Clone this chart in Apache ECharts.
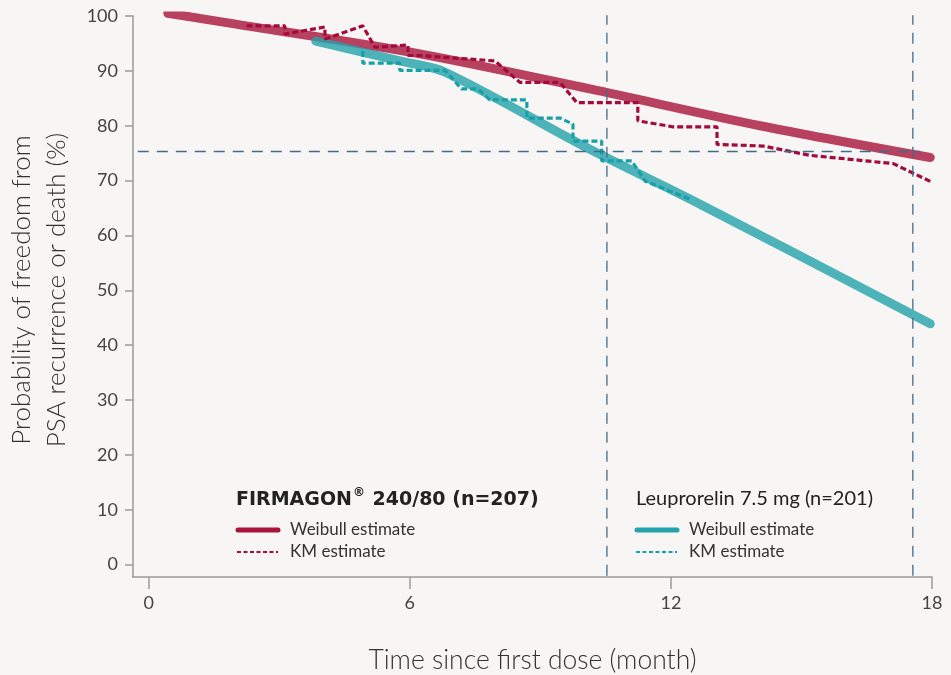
<!DOCTYPE html>
<html>
<head>
<meta charset="utf-8">
<script src="https://cdn.jsdelivr.net/npm/echarts@6/dist/echarts.min.js"></script>
<style>
html,body{margin:0;padding:0;background:#f7f6f4;}
#c{width:951px;height:675px;}
</style>
</head>
<body>
<div id="c"></div>
<script>
// ---- data (month, %) ----
const xTicks = [0, 6, 12, 18];
const yTicks = [0, 10, 20, 30, 40, 50, 60, 70, 80, 90, 100];

const firmagonWeibull = [[0.44,100.5],[1.86,98.7],[6.23,93.1],[10.14,86.7],[14.05,80.0],[17.96,74.2]];
const leuproWeibull = [[3.84,95.4],[5.77,91.8],[6.8,89.8],[10.14,75.7],[12.67,65.7],[17.96,43.9]];

const firmagonKM = [[2.25,98.2],[3.13,98.2],[3.13,96.7],[4.05,98.0],[4.05,95.8],[4.92,98.2],[5.20,94.3],
  [5.96,94.7],[5.96,92.8],[6.23,92.8],[7.96,91.8],[8.53,87.9],[9.45,87.9],[9.84,84.2],[11.24,84.2],
  [11.24,80.9],[12.05,79.8],[13.06,79.8],[13.06,76.6],[14.12,76.3],[15.20,74.6],[17.11,73.1],[18.0,69.7]];
const leuproKM = [[4.92,93.6],[4.92,91.4],[5.77,91.4],[5.77,90.1],[6.81,90.1],[7.19,86.7],[7.57,86.7],
  [7.84,84.7],[8.69,84.7],[8.69,81.4],[9.45,81.4],[9.75,80.3],[9.75,77.2],[10.41,77.2],[10.41,73.6],
  [11.10,73.6],[11.41,69.9],[12.44,66.6]];

const refY = 75.3;
const refYRange = [-0.25, 17.73];
const refX = [10.53, 17.56];
const refXTop = 100.4;

const legendTitles = ['FIRMAGON', '\u00AE', ' 240/80 (n=207)', 'Leuprorelin 7.5 mg (n=201)'];
const legendItems = ['Weibull estimate', 'KM estimate'];

// ---- styles ----
const RED = '#a8143a', TEAL = '#23a2a9';
const RED_KM = '#a50a3c', TEAL_KM = '#17a0a8';
const REF = '#3f6b8c';
const FONT = 'Lato';

const chart = echarts.init(document.getElementById('c'), null, {renderer:'canvas'});

const xMin = -0.36, yMin = -2.25;
const refSeries = [];
refSeries.push({type:'line', data:[[refYRange[0],refY],[refYRange[1],refY]], symbol:'none', silent:true,
  lineStyle:{color:REF, width:1.3, type:[11,8]}, z:5});
refX.forEach(x => refSeries.push({type:'line', data:[[x,refXTop],[x,yMin]], symbol:'none', silent:true,
  lineStyle:{color:REF, width:1.3, type:[11,8]}, z:5}));

function legendLines(x, c1, c2) {
  return [
    {type:'line', shape:{x1:x+2,y1:530,x2:x+42,y2:530}, style:{stroke:c1, lineWidth:5, lineCap:'round'}},
    {type:'line', shape:{x1:x+1,y1:552,x2:x+42,y2:552}, style:{stroke:c2, lineWidth:2, lineDash:[4,2.5]}},
    {type:'text', left:x+54, top:521, style:{text:legendItems[0], font:'17px '+FONT, fill:'#333'}},
    {type:'text', left:x+54, top:543, style:{text:legendItems[1], font:'17px '+FONT, fill:'#333'}}
  ];
}

chart.setOption({
  backgroundColor:'#f7f6f4',
  animation:false,
  grid:{left:133, right:19, top:16, bottom:98, containLabel:false, outerBoundsMode:'none'},
  xAxis:{type:'value', min:xMin, max:18,
    axisLine:{show:true, onZero:false, lineStyle:{color:'#9a9a9a', width:1.5}},
    axisTick:{show:true, length:12, customValues:xTicks, lineStyle:{color:'#9a9a9a', width:1.5}},
    axisLabel:{customValues:xTicks, color:'#444', fontSize:18, fontFamily:FONT, margin:17},
    splitLine:{show:false},
    name:'Time since first dose (month)', nameLocation:'middle', nameGap:70,
    nameTextStyle:{fontSize:26.5, color:'#333', fontFamily:FONT, fontWeight:300}},
  yAxis:{type:'value', min:yMin, max:100,
    axisLine:{show:true, onZero:false, lineStyle:{color:'#9a9a9a', width:1.5}},
    axisTick:{show:true, length:8, customValues:yTicks, lineStyle:{color:'#9a9a9a', width:1.5}},
    axisLabel:{customValues:yTicks, color:'#444', fontSize:18, fontFamily:FONT, margin:15},
    splitLine:{show:false}},
  graphic:[
    {type:'text', x:39, y:290, rotation:Math.PI/2,
      style:{text:'Probability of freedom from\nPSA recurrence or death (%)', font:'300 26px '+FONT, fill:'#333',
        align:'center', verticalAlign:'middle', lineHeight:35}},
    {type:'text', left:236, top:487, style:{
      text:'{b|'+legendTitles[0]+'}{s|'+legendTitles[1]+'}{b|'+legendTitles[2]+'}',
      rich:{b:{font:'bold 19px "DejaVu Sans"', fill:'#222', verticalAlign:'bottom', lineHeight:23},
            s:{font:'bold 12px "DejaVu Sans"', fill:'#222', verticalAlign:'top', lineHeight:23, padding:[0,1,8,1]}}}},
    ...legendLines(236, RED, RED_KM),
    {type:'text', left:636, top:489, style:{text:legendTitles[3], font:'20px '+FONT, fill:'#222'}},
    ...legendLines(635, TEAL, TEAL_KM)
  ],
  series:[
    {type:'line', data:firmagonWeibull, smooth:0.3, symbol:'none', lineStyle:{color:RED, width:9, opacity:0.8, cap:'round'}, z:2},
    {type:'line', data:leuproWeibull, smooth:0.3, symbol:'none', lineStyle:{color:TEAL, width:9, opacity:0.8, cap:'round'}, z:2},
    {type:'line', data:firmagonKM, symbol:'none', lineStyle:{color:RED_KM, width:3.2, type:[6,3]}, z:3},
    {type:'line', data:leuproKM, symbol:'none', lineStyle:{color:TEAL_KM, width:3.2, type:[6,3]}, z:3},
    ...refSeries
  ]
});
</script>
</body>
</html>
